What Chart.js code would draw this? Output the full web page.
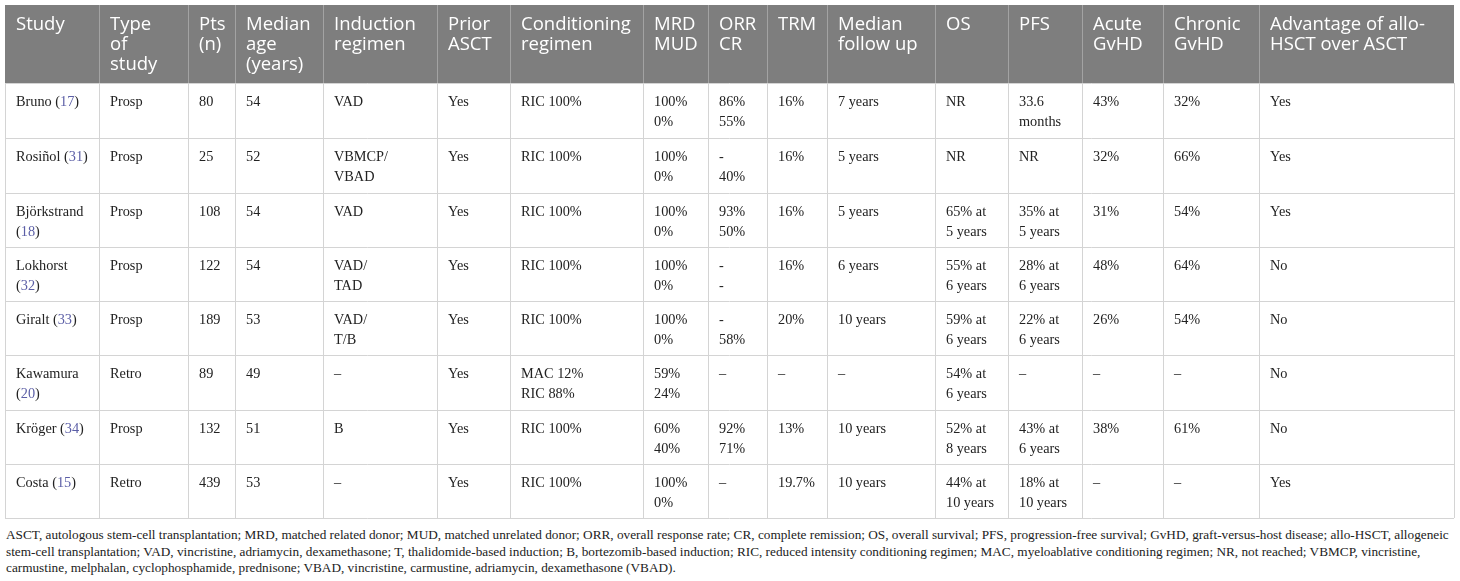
<!DOCTYPE html>
<html>
<head>
<meta charset="utf-8">
<script src="https://cdn.jsdelivr.net/npm/chart.js@4.4.1/dist/chart.umd.min.js"></script>
<style>
  html, body { margin: 0; padding: 0; background: #fff; }
  #wrap { position: relative; width: 1460px; height: 581px; overflow: hidden; }
  #table { position: absolute; left: 0; top: 0; }
  #note {
    position: absolute; left: 6px; top: 527px;
    font: 13.25px "Liberation Serif", serif; line-height: 16.5px;
    color: #222; white-space: nowrap;
  }
</style>
</head>
<body>
<div id="wrap">
  <canvas id="table" width="1460" height="520"></canvas>
  <div id="note">ASCT, autologous stem-cell transplantation; MRD, matched related donor; MUD, matched unrelated donor; ORR, overall response rate; CR, complete remission; OS, overall survival; PFS, progression-free survival; GvHD, graft-versus-host disease; allo-HSCT, allogeneic<br>stem-cell transplantation; VAD, vincristine, adriamycin, dexamethasone; T, thalidomide-based induction; B, bortezomib-based induction; RIC, reduced intensity conditioning regimen; MAC, myeloablative conditioning regimen; NR, not reached; VBMCP, vincristine,<br>carmustine, melphalan, cyclophosphamide, prednisone; VBAD, vincristine, carmustine, adriamycin, dexamethasone (VBAD).</div>
</div>
<script>
// table content, one array per column
const headers = [
  "Study", "Type\nof\nstudy", "Pts\n(n)", "Median\nage\n(years)", "Induction\nregimen",
  "Prior\nASCT", "Conditioning\nregimen", "MRD\nMUD", "ORR\nCR", "TRM",
  "Median\nfollow up", "OS", "PFS", "Acute\nGvHD", "Chronic\nGvHD",
  "Advantage of allo-\nHSCT over ASCT",
];
const study = [
  "Bruno (17)", "Rosiñol (31)", "Björkstrand\n(18)", "Lokhorst\n(32)",
  "Giralt (33)", "Kawamura\n(20)", "Kröger (34)", "Costa (15)",
];
const studyType = ["Prosp", "Prosp", "Prosp", "Prosp", "Prosp", "Retro", "Prosp", "Retro"];
const pts = [80, 25, 108, 122, 189, 89, 132, 439];
const medianAge = [54, 52, 54, 54, 53, 49, 51, 53];
const induction = ["VAD", "VBMCP/\nVBAD", "VAD", "VAD/\nTAD", "VAD/\nT/B", "–", "B", "–"];
const priorAsct = ["Yes", "Yes", "Yes", "Yes", "Yes", "Yes", "Yes", "Yes"];
const conditioning = [
  "RIC 100%", "RIC 100%", "RIC 100%", "RIC 100%", "RIC 100%",
  "MAC 12%\nRIC 88%", "RIC 100%", "RIC 100%",
];
const mrdMud = ["100%\n0%", "100%\n0%", "100%\n0%", "100%\n0%", "100%\n0%", "59%\n24%", "60%\n40%", "100%\n0%"];
const orrCr = ["86%\n55%", "-\n40%", "93%\n50%", "-\n-", "-\n58%", "–", "92%\n71%", "–"];
const trm = ["16%", "16%", "16%", "16%", "20%", "–", "13%", "19.7%"];
const followUp = ["7 years", "5 years", "5 years", "6 years", "10 years", "–", "10 years", "10 years"];
const os = [
  "NR", "NR", "65% at\n5 years", "55% at\n6 years", "59% at\n6 years",
  "54% at\n6 years", "52% at\n8 years", "44% at\n10 years",
];
const pfs = [
  "33.6\nmonths", "NR", "35% at\n5 years", "28% at\n6 years", "22% at\n6 years",
  "–", "43% at\n6 years", "18% at\n10 years",
];
const acuteGvhd = ["43%", "32%", "31%", "48%", "26%", "–", "38%", "–"];
const chronicGvhd = ["32%", "66%", "54%", "64%", "54%", "–", "61%", "–"];
const advantage = ["Yes", "Yes", "Yes", "No", "No", "No", "No", "Yes"];

const columns = [
  study, studyType, pts, medianAge, induction, priorAsct, conditioning, mrdMud,
  orrCr, trm, followUp, os, pfs, acuteGvhd, chronicGvhd, advantage,
];

// layout (scale units), kept apart from the content
const colWidths = [94, 89, 47, 88, 114, 73, 133, 65, 59, 60, 108, 73, 74, 81, 96, 195];
const rowHeights = [78, 55, 55, 54, 54, 54, 55, 54, 54];

const cumulative = (arr) => arr.reduce((acc, v) => { acc.push(acc[acc.length - 1] + v); return acc; }, [0]);
const colEdges = cumulative(colWidths);
const rowEdges = cumulative(rowHeights);

const HEAD_FONT = '18.5px "Open Sans", sans-serif';
const BODY_FONT = '14.3px "Liberation Serif", serif';
const LINK = "#5b5ea6";

// draws "Name (17)" with the reference number coloured
function drawRich(ctx, text, px, py, color) {
  const m = text.match(/^(.*\()(\d+)(\).*)$/);
  if (!m) {
    ctx.fillStyle = color;
    ctx.fillText(text, px, py);
    return;
  }
  let cx = px;
  [[m[1], color], [m[2], LINK], [m[3], color]].forEach(([s, c]) => {
    ctx.fillStyle = c;
    ctx.fillText(s, cx, py);
    cx += ctx.measureText(s).width;
  });
}

const tablePlugin = {
  id: "tableCells",
  afterDraw(chart) {
    const { ctx } = chart;
    const x = chart.scales.x;
    const y = chart.scales.y;
    const px = (v) => x.getPixelForValue(v);
    const py = (v) => y.getPixelForValue(v);
    const crisp = (v) => Math.round(v) + 0.5;

    ctx.save();

    // header band
    ctx.fillStyle = "#7e7e7e";
    ctx.fillRect(px(0), py(0), px(colEdges[colEdges.length - 1]) - px(0), py(rowEdges[1]) - py(0));

    // grid lines
    ctx.lineWidth = 1;
    colEdges.forEach((e, i) => {
      // header separators
      if (i > 0 && i < colEdges.length - 1) {
        ctx.strokeStyle = "#a3a3a3";
        ctx.beginPath();
        ctx.moveTo(crisp(px(e)), py(0));
        ctx.lineTo(crisp(px(e)), py(rowEdges[1]));
        ctx.stroke();
      }
      ctx.strokeStyle = "#d4d4d4";
      ctx.beginPath();
      ctx.moveTo(crisp(px(e)), py(rowEdges[1]));
      ctx.lineTo(crisp(px(e)), py(rowEdges[rowEdges.length - 1]));
      ctx.stroke();
    });
    ctx.strokeStyle = "#d4d4d4";
    rowEdges.slice(1).forEach((e) => {
      ctx.beginPath();
      ctx.moveTo(px(0), crisp(py(e)));
      ctx.lineTo(px(colEdges[colEdges.length - 1]), crisp(py(e)));
      ctx.stroke();
    });

    ctx.textBaseline = "middle";
    ctx.textAlign = "left";

    // header text
    ctx.font = HEAD_FONT;
    ctx.fillStyle = "#ffffff";
    headers.forEach((h, c) => {
      String(h).split("\n").forEach((line, k) => {
        ctx.fillText(line, px(colEdges[c]) + 11, py(rowEdges[0]) + 20 + k * 20);
      });
    });

    // body text
    ctx.font = BODY_FONT;
    columns.forEach((col, c) => {
      col.forEach((val, r) => {
        String(val).split("\n").forEach((line, k) => {
          drawRich(ctx, line, px(colEdges[c]) + 11, py(rowEdges[r + 1]) + 19 + k * 20, "#222222");
        });
      });
    });

    ctx.restore();
  },
};

new Chart(document.getElementById("table"), {
  type: "scatter",
  data: { datasets: [] },
  options: {
    responsive: false,
    animation: false,
    events: [],
    layout: { padding: { left: 5, top: 5, right: 6, bottom: 2 } },
    plugins: {
      legend: { display: false },
      tooltip: { enabled: false },
    },
    scales: {
      x: { type: "linear", display: false, min: 0, max: colEdges[colEdges.length - 1] },
      y: { type: "linear", display: false, reverse: true, min: 0, max: rowEdges[rowEdges.length - 1] },
    },
  },
  plugins: [tablePlugin],
});
</script>
</body>
</html>
